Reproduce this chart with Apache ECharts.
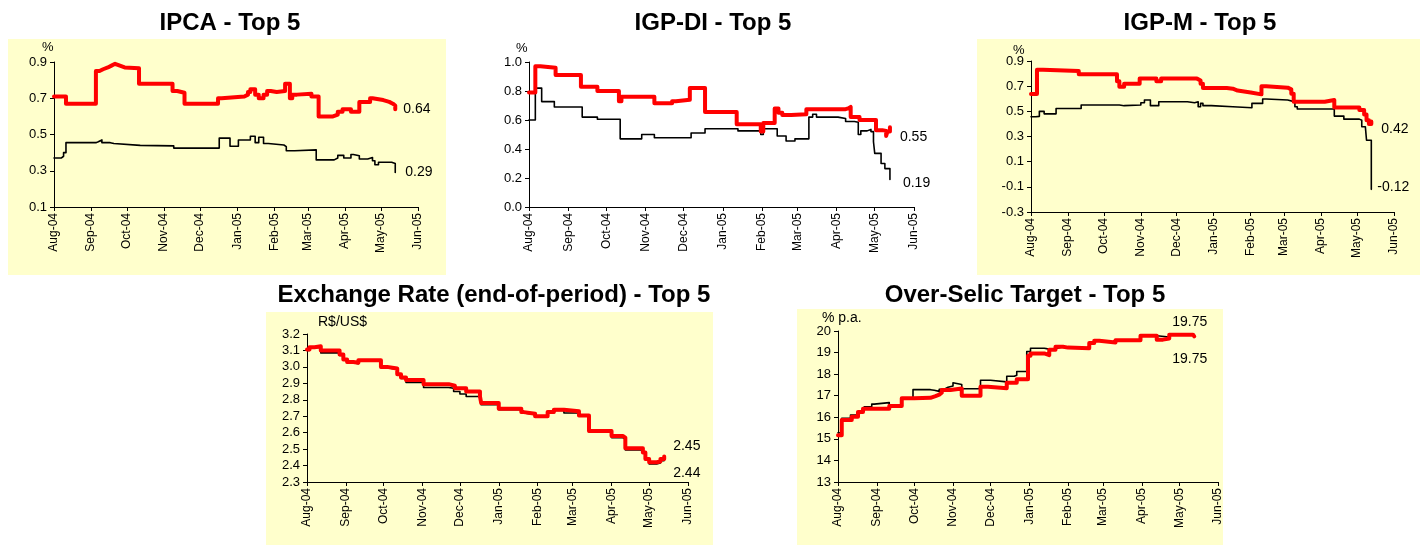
<!DOCTYPE html>
<html>
<head>
<meta charset="utf-8">
<script src="https://cdn.jsdelivr.net/npm/echarts@6/dist/echarts.min.js"></script>
<style>
html,body{margin:0;padding:0;background:#fff;}
#chart{width:1425px;height:545px;}
</style>
</head>
<body>
<div id="chart"></div>
<script>
// ---------------- DATA ----------------
const monthNames = ['Jan','Feb','Mar','Apr','May','Jun','Jul','Aug','Sep','Oct','Nov','Dec'];
const axisStart = '2004-08-01';
const axisEnd = '2005-06-01';

const titles = ['IPCA - Top 5', 'IGP-DI - Top 5', 'IGP-M - Top 5', 'Exchange Rate (end-of-period) - Top 5', 'Over-Selic Target - Top 5'];
const units = ['%', '%', '%', 'R$/US$', '% p.a.'];
const endLabelsRed = ['0.64', '0.55', '0.42', '2.45', '19.75'];
const endLabelsBlack = ['0.29', '0.19', '-0.12', '2.44', '19.75'];

// y-axis scales [min, max, interval]
const yScales = [[0.1, 0.9, 0.2], [0.0, 1.0, 0.2], [-0.3, 0.9, 0.2], [2.3, 3.2, 0.1], [13, 20, 1]];

const ipcaRed = [
['2004-08-01',0.71],['2004-08-11',0.67],['2004-09-05',0.85],['2004-09-08',0.86],['2004-09-11',0.87],
['2004-09-15',0.88],['2004-09-18',0.89],['2004-09-21',0.88],['2004-09-25',0.87],['2004-09-29',0.865],
['2004-10-11',0.78],['2004-11-08',0.74],['2004-11-12',0.73],['2004-11-18',0.67],['2004-12-16',0.70],
['2004-12-19',0.71],['2005-01-07',0.72],['2005-01-10',0.735],['2005-01-12',0.75],['2005-01-16',0.72],
['2005-01-19',0.70],['2005-01-23',0.72],['2005-01-26',0.74],['2005-01-29',0.735],['2005-02-03',0.74],
['2005-02-10',0.78],['2005-02-14',0.70],['2005-02-16',0.72],['2005-02-20',0.725],['2005-03-04',0.71],
['2005-03-10',0.60],['2005-03-22',0.61],['2005-03-26',0.625],['2005-03-30',0.64],['2005-04-06',0.625],
['2005-04-13',0.68],['2005-04-22',0.70],['2005-04-24',0.69],['2005-05-03',0.68],['2005-05-08',0.67],
['2005-05-11',0.66],['2005-05-13',0.64]
];
const ipcaBlack = [
['2004-08-01',0.37],['2004-08-07',0.38],['2004-08-09',0.40],['2004-08-11',0.455],['2004-09-05',0.46],
['2004-09-07',0.47],['2004-09-10',0.455],['2004-09-17',0.45],['2004-09-20',0.44],['2004-10-12',0.447],
['2004-10-13',0.437],['2004-11-09',0.425],['2004-12-17',0.48],['2004-12-26',0.435],['2005-01-02',0.47],
['2005-01-12',0.49],['2005-01-16',0.455],['2005-01-19',0.485],['2005-01-23',0.45],['2005-01-27',0.442],
['2005-02-09',0.433],['2005-02-11',0.41],['2005-02-18',0.415],['2005-03-08',0.36],['2005-03-23',0.37],
['2005-03-26',0.385],['2005-03-31',0.37],['2005-04-06',0.39],['2005-04-08',0.383],['2005-04-13',0.365],
['2005-04-20',0.373],['2005-04-24',0.355],['2005-04-26',0.333],['2005-04-29',0.347],['2005-05-10',0.34],
['2005-05-13',0.29]
];
const igpdiRed = [
['2004-08-01',0.79],['2004-08-06',0.97],['2004-08-10',0.96],['2004-08-22',0.91],['2004-09-11',0.83],
['2004-09-24',0.80],['2004-10-11',0.73],['2004-10-13',0.76],['2004-11-08',0.716],['2004-11-22',0.73],
['2004-11-25',0.74],['2004-12-06',0.82],['2004-12-18',0.655],['2005-01-12',0.57],['2005-01-31',0.52],
['2005-02-02',0.58],['2005-02-11',0.68],['2005-02-14',0.65],['2005-02-17',0.635],['2005-02-24',0.64],
['2005-03-08',0.675],['2005-04-08',0.68],['2005-04-10',0.69],['2005-04-12',0.62],['2005-04-19',0.60],
['2005-05-02',0.53],['2005-05-07',0.525],['2005-05-10',0.49],['2005-05-11',0.52],['2005-05-13',0.55]
];
const igpdiBlack = [
['2004-08-01',0.60],['2004-08-06',0.82],['2004-08-11',0.727],['2004-08-21',0.69],['2004-09-12',0.62],
['2004-09-24',0.605],['2004-10-12',0.47],['2004-10-29',0.50],['2004-11-08',0.478],['2004-12-07',0.51],
['2004-12-18',0.54],['2005-01-13',0.525],['2005-01-31',0.50],['2005-02-02',0.54],['2005-02-13',0.49],
['2005-02-20',0.455],['2005-02-27',0.47],['2005-03-10',0.62],['2005-03-13',0.64],['2005-03-16',0.62],
['2005-04-02',0.61],['2005-04-08',0.59],['2005-04-15',0.585],['2005-04-18',0.50],['2005-04-20',0.525],
['2005-04-25',0.535],['2005-04-28',0.52],['2005-04-30',0.45],['2005-05-01',0.37],['2005-05-06',0.30],
['2005-05-09',0.265],['2005-05-13',0.19]
];
const igpmRed = [
['2004-08-01',0.637],['2004-08-06',0.83],['2004-08-11',0.82],['2004-09-10',0.795],['2004-10-12',0.74],
['2004-10-14',0.696],['2004-10-18',0.72],['2004-10-31',0.76],['2004-11-14',0.74],['2004-11-18',0.76],
['2004-12-18',0.745],['2004-12-21',0.72],['2004-12-23',0.685],['2005-01-12',0.68],['2005-01-17',0.665],
['2005-01-21',0.65],['2005-02-01',0.635],['2005-02-10',0.70],['2005-02-14',0.688],['2005-03-04',0.675],
['2005-03-07',0.64],['2005-03-09',0.576],['2005-04-04',0.59],['2005-04-12',0.53],['2005-05-03',0.51],
['2005-05-07',0.475],['2005-05-09',0.43],['2005-05-11',0.40],['2005-05-13',0.42]
];
const igpmBlack = [
['2004-08-01',0.457],['2004-08-05',0.46],['2004-08-08',0.50],['2004-08-12',0.48],['2004-08-22',0.523],
['2004-09-12',0.55],['2004-10-14',0.545],['2004-10-18',0.55],['2004-11-01',0.568],['2004-11-04',0.59],
['2004-11-09',0.545],['2004-11-16',0.576],['2004-12-10',0.568],['2004-12-16',0.576],['2004-12-19',0.537],
['2004-12-21',0.563],['2004-12-23',0.545],['2004-12-30',0.537],['2005-01-17',0.528],['2005-02-02',0.563],
['2005-02-11',0.598],['2005-02-14',0.59],['2005-03-04',0.575],['2005-03-10',0.537],['2005-03-12',0.518],
['2005-04-12',0.462],['2005-04-20',0.438],['2005-05-03',0.43],['2005-05-05',0.378],['2005-05-08',0.37],
['2005-05-09',0.27],['2005-05-13',-0.12]
];
const fxRed = [
['2004-08-01',3.105],['2004-08-03',3.12],['2004-08-07',3.125],['2004-08-12',3.10],['2004-08-27',3.075],
['2004-08-30',3.045],['2004-09-02',3.03],['2004-09-07',3.025],['2004-09-11',3.04],['2004-09-29',3.00],
['2004-10-04',2.995],['2004-10-08',2.99],['2004-10-12',2.955],['2004-10-15',2.935],['2004-10-19',2.92],
['2004-11-02',2.895],['2004-11-22',2.885],['2004-11-27',2.87],['2004-12-06',2.85],['2004-12-17',2.82],
['2004-12-18',2.78],['2005-01-01',2.745],['2005-01-19',2.725],['2005-01-21',2.715],['2005-01-30',2.70],
['2005-02-09',2.725],['2005-02-14',2.74],['2005-02-22',2.73],['2005-03-06',2.705],['2005-03-14',2.61],
['2005-04-01',2.58],['2005-04-10',2.57],['2005-04-12',2.505],['2005-04-26',2.48],['2005-04-28',2.44],
['2005-05-01',2.42],['2005-05-07',2.425],['2005-05-10',2.44],['2005-05-13',2.455]
];
const fxBlack = [
['2004-08-01',3.10],['2004-08-03',3.115],['2004-08-07',3.12],['2004-08-12',3.085],['2004-08-27',3.07],
['2004-08-30',3.04],['2004-09-02',3.025],['2004-09-07',3.02],['2004-09-11',3.035],['2004-09-29',2.995],
['2004-10-04',2.99],['2004-10-08',2.985],['2004-10-12',2.95],['2004-10-15',2.93],['2004-10-19',2.905],
['2004-11-02',2.875],['2004-11-22',2.87],['2004-11-26',2.85],['2004-12-01',2.835],['2004-12-06',2.82],
['2004-12-17',2.80],['2004-12-18',2.77],['2005-01-01',2.74],['2005-01-19',2.72],['2005-01-21',2.71],
['2005-01-30',2.695],['2005-02-09',2.72],['2005-02-14',2.735],['2005-02-22',2.72],['2005-03-06',2.70],
['2005-03-14',2.605],['2005-04-01',2.57],['2005-04-10',2.56],['2005-04-12',2.495],['2005-04-26',2.475],
['2005-04-28',2.435],['2005-05-01',2.41],['2005-05-07',2.415],['2005-05-10',2.43],['2005-05-13',2.44]
];
const selicRed = [
['2004-08-01',15.17],['2004-08-04',15.87],['2004-08-12',16.02],['2004-08-17',16.25],['2004-08-21',16.40],
['2004-09-11',16.52],['2004-09-21',16.88],['2004-10-01',16.90],['2004-10-14',16.98],['2004-10-18',17.05],
['2004-10-21',17.14],['2004-10-23',17.27],['2004-10-30',17.33],['2004-11-08',17.0],['2004-11-23',17.42],
['2004-11-29',17.35],['2004-12-14',17.6],['2004-12-22',17.76],['2004-12-31',18.85],['2005-01-02',18.96],
['2005-01-13',18.88],['2005-01-17',19.13],['2005-01-22',19.27],['2005-01-28',19.23],['2005-02-01',19.20],
['2005-02-18',19.44],['2005-02-22',19.55],['2005-02-26',19.47],['2005-03-11',19.57],['2005-03-31',19.78],
['2005-04-13',19.60],['2005-04-18',19.65],['2005-04-23',19.83],['2005-05-12',19.80],['2005-05-13',19.75]
];
const selicBlack = [
['2004-08-01',15.28],['2004-08-04',15.95],['2004-08-11',16.10],['2004-08-18',16.29],['2004-08-22',16.49],
['2004-08-28',16.61],['2004-08-30',16.68],['2004-09-11',16.54],['2004-09-21',16.88],['2004-09-30',17.28],
['2004-10-14',17.25],['2004-10-17',17.2],['2004-10-21',17.3],['2004-10-25',17.39],['2004-10-28',17.45],
['2004-11-01',17.6],['2004-11-02',17.52],['2004-11-08',17.32],['2004-11-21',17.35],['2004-11-23',17.72],
['2004-12-01',17.64],['2004-12-14',17.9],['2004-12-20',17.95],['2004-12-22',18.12],['2004-12-30',19.05],
['2005-01-02',19.2],['2005-01-13',19.16],['2005-01-17',19.18],['2005-01-22',19.27],['2005-01-28',19.23],
['2005-02-01',19.20],['2005-02-18',19.44],['2005-02-22',19.55],['2005-02-26',19.47],['2005-03-11',19.57],
['2005-03-31',19.78],['2005-04-13',19.72],['2005-04-23',19.83],['2005-05-13',19.75]
];

const redSeries = [ipcaRed, igpdiRed, igpmRed, fxRed, selicRed];
const blackSeries = [ipcaBlack, igpdiBlack, igpmBlack, fxBlack, selicBlack];

// ---------------- LAYOUT / STYLE ----------------
const FONT = '"Liberation Sans", Arial, sans-serif';
const grids = [
  {left: 54, top: 62, width: 364, height: 145},
  {left: 529, top: 62, width: 385, height: 145},
  {left: 1031, top: 61, width: 363, height: 151},
  {left: 307, top: 334, width: 381, height: 148},
  {left: 838, top: 331, width: 380, height: 151}
];
const boxes = [
  {x: 8, y: 39, width: 438, height: 236},
  null,
  {x: 977, y: 39, width: 443, height: 236},
  {x: 266, y: 312, width: 447, height: 233},
  {x: 797, y: 309, width: 426, height: 236}
];
const titlePos = [[230, 23], [713, 23], [1200, 23], [494, 295], [1025, 295]];
const unitPos = [[42, 47, 13], [516, 48, 13], [1013, 50, 13], [318, 322, 14], [822, 318, 14]];
// end label [distance, dy]
const redLabelPos = [[8, 0], [10, 10], [10, 8], [9, -10], [-22, -14]];
const blackLabelPos = [[10, 0], [13, 4], [6, -2], [9, 14], [-22, 23]];
const decimals = [1, 1, 1, 1, 0];

// x categories: each day
function dayList(a, b) {
  const out = [];
  let t = Date.parse(a + 'T00:00:00Z');
  const e = Date.parse(b + 'T00:00:00Z');
  while (t <= e) { out.push(new Date(t).toISOString().slice(0, 10)); t += 86400000; }
  return out;
}
const days = dayList(axisStart, axisEnd);
const isMonthStart = (i, v) => v.slice(8) === '01';
const monthLabel = v => monthNames[+v.slice(5, 7) - 1] + '-' + v.slice(2, 4);

const graphic = [];
boxes.forEach(b => { if (b) graphic.push({type: 'rect', z: -10, shape: b, style: {fill: '#FFFFCC'}}); });
titles.forEach((t, i) => graphic.push({
  type: 'text', x: titlePos[i][0], y: titlePos[i][1],
  style: {text: t, fill: '#000', font: 'bold 24px ' + FONT, textAlign: 'center', textVerticalAlign: 'middle'}
}));
units.forEach((u, i) => graphic.push({
  type: 'text', x: unitPos[i][0], y: unitPos[i][1],
  style: {text: u, fill: '#000', font: unitPos[i][2] + 'px ' + FONT, textAlign: 'left', textVerticalAlign: 'middle'}
}));

const xAxis = grids.map((g, i) => ({
  type: 'category', gridIndex: i, data: days, boundaryGap: false,
  axisLine: {onZero: false, lineStyle: {color: '#000', width: 1}},
  axisTick: {show: true, interval: isMonthStart, length: 4, lineStyle: {color: '#000'}},
  axisLabel: {interval: isMonthStart, formatter: monthLabel, rotate: 90, margin: 6,
              color: '#000', fontSize: 12, fontFamily: FONT},
  splitLine: {show: false}
}));
const yAxis = grids.map((g, i) => ({
  type: 'value', gridIndex: i, min: yScales[i][0], max: yScales[i][1], interval: yScales[i][2],
  axisLine: {show: true, onZero: false, lineStyle: {color: '#000', width: 1}},
  axisTick: {show: true, length: 4, lineStyle: {color: '#000'}},
  axisLabel: {color: '#000', fontSize: 13, fontFamily: FONT, margin: 7,
              formatter: v => Number(v).toFixed(decimals[i])},
  splitLine: {show: false}
}));

const series = [];
grids.forEach((g, i) => {
  series.push({
    type: 'line', name: 'black' + i, xAxisIndex: i, yAxisIndex: i, data: blackSeries[i],
    step: 'end', symbol: 'none', z: 2,
    lineStyle: {color: '#000', width: 1.6, join: 'round', cap: 'round'},
    endLabel: {show: true, formatter: endLabelsBlack[i], color: '#000', fontSize: 14, fontFamily: FONT,
               distance: blackLabelPos[i][0], offset: [0, blackLabelPos[i][1]]}
  });
  series.push({
    type: 'line', name: 'red' + i, xAxisIndex: i, yAxisIndex: i, data: redSeries[i],
    step: 'end', symbol: 'none', z: 3,
    lineStyle: {color: '#FF0000', width: 4, join: 'round', cap: 'round'},
    endLabel: {show: true, formatter: endLabelsRed[i], color: '#000', fontSize: 14, fontFamily: FONT,
               distance: redLabelPos[i][0], offset: [0, redLabelPos[i][1]]}
  });
});

const chart = echarts.init(document.getElementById('chart'), null, {renderer: 'canvas'});
chart.setOption({
  animation: false,
  backgroundColor: '#fff',
  textStyle: {fontFamily: FONT},
  grid: grids.map(g => Object.assign({containLabel: false}, g)),
  xAxis, yAxis, series, graphic
});
</script>
</body>
</html>
